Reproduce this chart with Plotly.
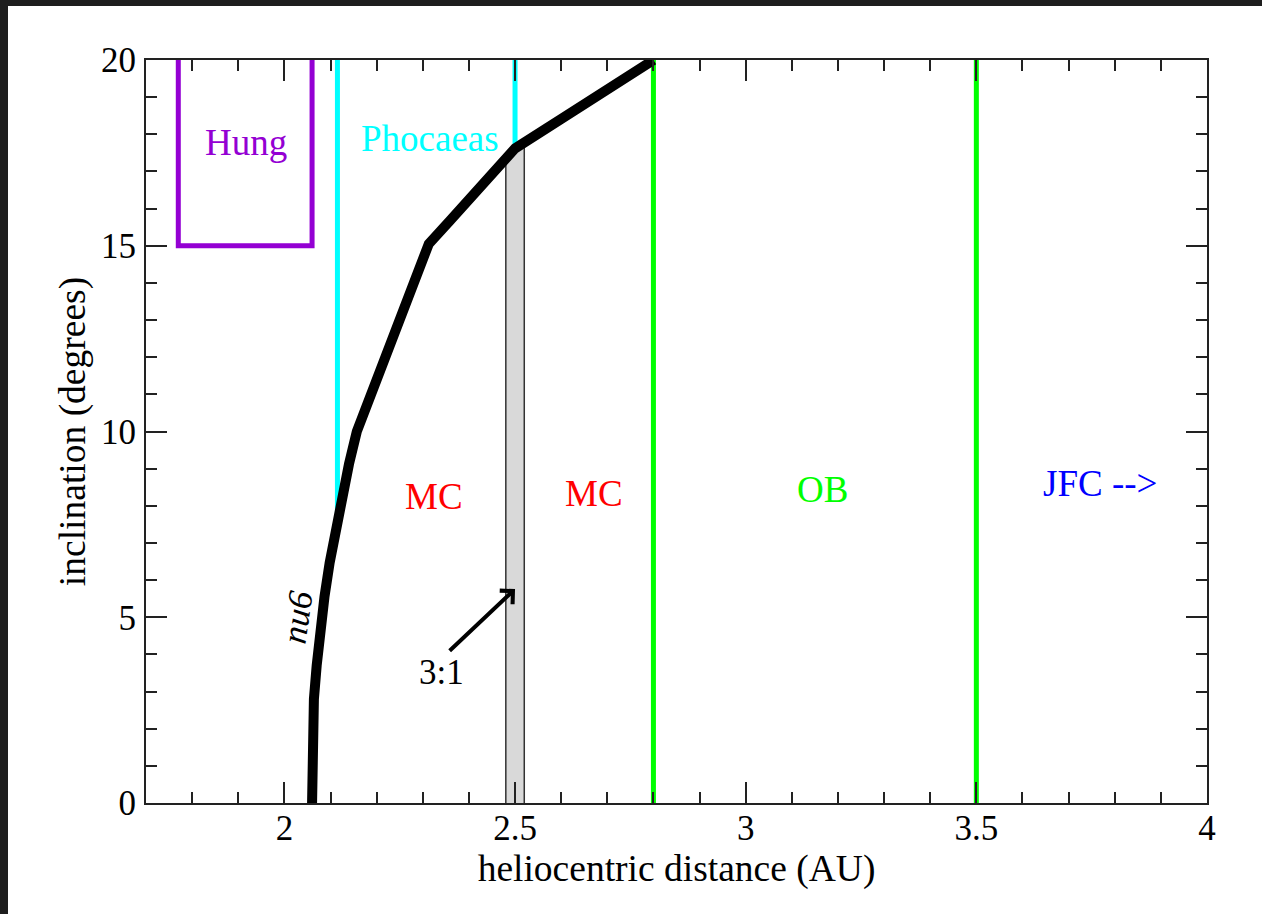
import plotly.graph_objects as go

# ---------------- data ----------------
nu6_a = [2.060, 2.060, 2.064, 2.070, 2.077, 2.087, 2.098, 2.111, 2.125, 2.140, 2.157,
         2.185, 2.214, 2.242, 2.269, 2.313, 2.360, 2.400, 2.440, 2.480, 2.500, 2.600, 2.700, 2.800]
nu6_i = [0.0, 2.77, 2.80, 3.70, 4.66, 5.56, 6.46, 7.35, 8.24, 9.12, 10.0,
         10.9, 11.84, 12.7, 13.62, 15.05, 15.69, 16.24, 16.80, 17.35, 17.62, 18.41, 19.21, 20.0]

hung_a = [1.77, 1.77, 2.06, 2.06]
hung_i = [20.0, 15.0, 15.0, 20.0]

phoc_left_a = [2.115, 2.115]
phoc_left_i = [7.7, 20.0]
phoc_right_a = [2.5, 2.5]
phoc_right_i = [17.6, 20.0]

ob_lines_a = [2.8, 3.5]
ob_lines_i = [0.0, 20.0]

res31_a = [2.48, 2.48, 2.50, 2.52, 2.52]
res31_i = [0.0, 17.35, 17.62, 17.78, 0.0]

x_range = [1.7, 4.0]
y_range = [0.0, 20.0]
x_ticks = [2, 2.5, 3, 3.5, 4]
x_ticklabels = ["2", "2.5", "3", "3.5", "4"]
y_ticks = [0, 5, 10, 15, 20]
y_ticklabels = ["0", "5", "10", "15", "20"]

labels = [
    ("Hung", 1.916, 17.77, "#9400d3"),
    ("Phocaeas", 2.316, 17.9, "#00ffff"),
    ("MC", 2.325, 8.24, "#ff0000"),
    ("MC", 2.672, 8.32, "#ff0000"),
    ("OB", 3.166, 8.45, "#00ff00"),
    ("JFC -->", 3.768, 8.61, "#0000ff"),
]

# ---------------- figure ----------------
W, H = 1262, 914
ML, MR, MT, MB = 146, 55, 60, 111
FONT = "Liberation Serif, Times New Roman, serif"

fig = go.Figure()

# 3:1 resonance band
fig.add_trace(go.Scatter(x=res31_a, y=res31_i, mode="lines", fill="toself",
                         fillcolor="#d9d9d9", line=dict(color="#333333", width=1.5),
                         hoverinfo="skip", showlegend=False))

# Hungaria box
fig.add_trace(go.Scatter(x=hung_a, y=hung_i, mode="lines",
                         line=dict(color="#9400d3", width=5), showlegend=False))

# Phocaea boundaries
fig.add_trace(go.Scatter(x=phoc_left_a, y=phoc_left_i, mode="lines",
                         line=dict(color="#00ffff", width=5), showlegend=False))
fig.add_trace(go.Scatter(x=phoc_right_a, y=phoc_right_i, mode="lines",
                         line=dict(color="#00ffff", width=5), showlegend=False))

# Outer belt boundaries
for a in ob_lines_a:
    fig.add_trace(go.Scatter(x=[a, a], y=ob_lines_i, mode="lines",
                             line=dict(color="#00ff00", width=5), showlegend=False))

# nu6 secular resonance
fig.add_trace(go.Scatter(x=nu6_a, y=nu6_i, mode="lines",
                         line=dict(color="#000000", width=10), showlegend=False))

for text, x, y, c in labels:
    fig.add_annotation(x=x, y=y, xref="x", yref="y", text=text, showarrow=False,
                       font=dict(family=FONT, size=37, color=c))

fig.add_annotation(x=2.028, y=5.0, xref="x", yref="y", text="<i>nu6</i>", showarrow=False,
                   textangle=-82, font=dict(family=FONT, size=35, color="#000000"))
fig.add_annotation(x=2.34, y=3.5, xref="x", yref="y", text="3:1", showarrow=False,
                   font=dict(family=FONT, size=35, color="#000000"))
fig.add_annotation(x=2.5, y=5.76, xref="x", yref="y", ax=2.355, ay=4.06,
                   axref="x", ayref="y", text="", showarrow=True,
                   arrowhead=4, arrowwidth=4, arrowsize=0.9, arrowcolor="#000000")

# dark frame around the page (screenshot border)
pw = W - ML - MR
ph = H - MT - MB
fig.add_shape(type="rect", xref="paper", yref="paper", layer="below",
              x0=-ML / pw - 0.01, x1=(W - ML) / pw + 0.01,
              y0=(ph + MT - 6) / ph, y1=(ph + MT) / ph + 0.01,
              fillcolor="#1e1e1e", line=dict(width=0))
fig.add_shape(type="rect", xref="paper", yref="paper", layer="below",
              x0=-ML / pw - 0.01, x1=(8 - ML) / pw,
              y0=-MB / ph - 0.01, y1=(ph + MT) / ph + 0.01,
              fillcolor="#1e1e1e", line=dict(width=0))

axis_common = dict(
    showgrid=False, zeroline=False, showline=True, linecolor="#222222", linewidth=2,
    mirror="ticks", ticks="inside", ticklen=21, tickwidth=2, tickcolor="#222222",
    tickfont=dict(family=FONT, size=35, color="#000000"),
)

fig.update_xaxes(range=x_range, tickmode="array", tickvals=x_ticks, ticktext=x_ticklabels,
                 minor=dict(ticks="inside", ticklen=11, tickwidth=2, tickcolor="#222222",
                            dtick=0.1, tick0=1.7, showgrid=False),
                 title=dict(text="heliocentric distance (AU)", standoff=6,
                            font=dict(family=FONT, size=37.5, color="#000000")),
                 ticklabelstandoff=-7,
                 **axis_common)
fig.update_yaxes(range=y_range, tickmode="array", tickvals=y_ticks, ticktext=y_ticklabels,
                 minor=dict(ticks="inside", ticklen=11, tickwidth=2, tickcolor="#222222",
                            dtick=1, tick0=0, showgrid=False),
                 title=dict(text="inclination (degrees)", standoff=4,
                            font=dict(family=FONT, size=37.5, color="#000000")),
                 ticklabelstandoff=1,
                 **axis_common)

fig.update_layout(width=W, height=H, margin=dict(l=ML, r=MR, t=MT, b=MB, autoexpand=False),
                  paper_bgcolor="#ffffff", plot_bgcolor="#ffffff", showlegend=False)

fig.write_html("out.html")
